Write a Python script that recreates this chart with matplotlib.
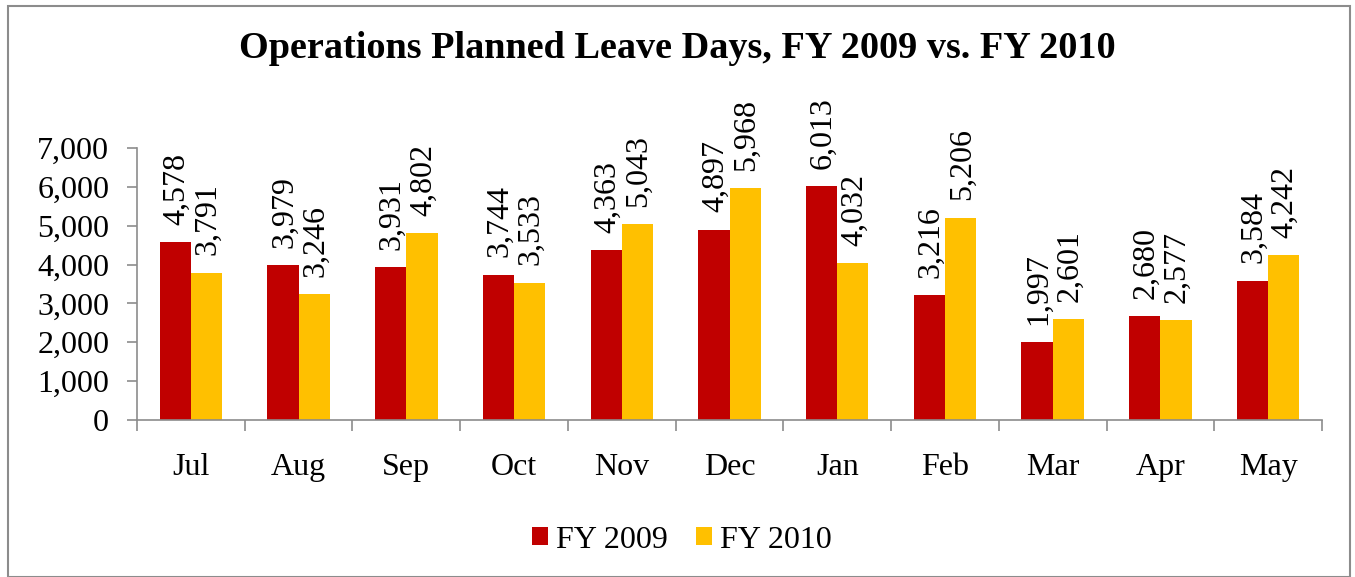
import matplotlib
matplotlib.use("Agg")
import matplotlib.pyplot as plt
from matplotlib.patches import Rectangle
import numpy as np

months = ["Jul", "Aug", "Sep", "Oct", "Nov", "Dec", "Jan", "Feb", "Mar", "Apr", "May"]
fy2009 = [4578, 3979, 3931, 3744, 4363, 4897, 6013, 3216, 1997, 2680, 3584]
fy2010 = [3791, 3246, 4802, 3533, 5043, 5968, 4032, 5206, 2601, 2577, 4242]
yticks = [0, 1000, 2000, 3000, 4000, 5000, 6000, 7000]

plt.rcParams['font.family'] = ['Liberation Serif', 'DejaVu Serif']

fig = plt.figure(figsize=(13.55, 5.77), dpi=100)
fig.patches.append(Rectangle((8/1355, 0.0), (1350-8)/1355, 1 - 6/577 - 0.0,
                             transform=fig.transFigure, fill=False,
                             edgecolor='#8c8c8c', linewidth=1.5, clip_on=False))

ax = fig.add_axes([137/1355, 1 - 420/577, (1322-137)/1355, (420-148)/577])
x = np.arange(len(months))
w = 0.29
red = '#c00000'
gold = '#ffc000'
fs = 23
b1 = ax.bar(x - w/2, fy2009, w, color=red, label='FY 2009')
b2 = ax.bar(x + w/2, fy2010, w, color=gold, label='FY 2010')

for bars, vals in ((b1, fy2009), (b2, fy2010)):
    for r, v in zip(bars, vals):
        ax.annotate(f"{v:,}", (r.get_x() + r.get_width()/2, v), xytext=(1, 12.5),
                    textcoords='offset points', rotation=90, ha='center', va='bottom',
                    fontsize=fs, annotation_clip=False)

ax.set_xlim(-0.5, len(months) - 0.5)
ax.set_ylim(0, 7000)
ax.set_yticks(yticks)
ax.set_yticklabels([f"{t:,}" for t in yticks], fontsize=fs)
ax.set_xticks(x)
ax.set_xticklabels(months, fontsize=fs)
ax.set_xticks(np.arange(-0.5, len(months)), minor=True)
ax.tick_params(axis='x', which='major', length=0, pad=24)
ax.tick_params(axis='x', which='minor', length=8, color='#8c8c8c', width=1.2, direction='out')
ax.tick_params(axis='y', length=7, color='#8c8c8c', width=1.2, direction='out', pad=13)
for s in ['top', 'right']:
    ax.spines[s].set_visible(False)
for s in ['left', 'bottom']:
    ax.spines[s].set_color('#8c8c8c')
    ax.spines[s].set_linewidth(1.2)

fig.text(0.5, 1 - 48/577, "Operations Planned Leave Days, FY 2009 vs. FY 2010",
         ha='center', va='center', fontsize=27.5, fontweight='bold')

handles = [b1, b2]
fig.legend(handles, ['FY 2009', 'FY 2010'], loc='center', bbox_to_anchor=(682/1355, 1 - 540/577),
           ncol=2, frameon=False, fontsize=fs, handlelength=0.5, handleheight=0.5,
           handletextpad=0.25, columnspacing=0.9)

fig.savefig("out.png", dpi=100)
